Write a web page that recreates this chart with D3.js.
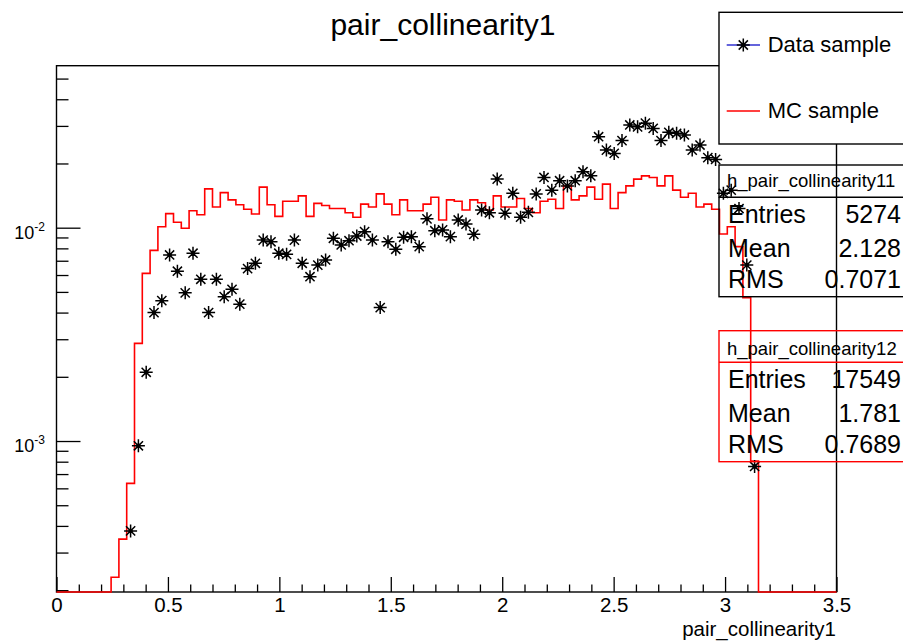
<!DOCTYPE html>
<html><head><meta charset="utf-8">
<script src="https://cdn.jsdelivr.net/npm/d3@7"></script>
<style>body{margin:0;background:#fff;overflow:hidden} svg{display:block;font-family:"Liberation Sans",Arial,Helvetica,sans-serif;}</style>
</head><body><svg id="c" width="903" height="642"></svg>
<script>
const xMin = 0, xMax = 3.5, nBins = 100;
const titleText = "pair_collinearity1";
const xAxisTitle = "pair_collinearity1";
const mcValues = [
  0,0,0,0,0,0,0,2.30e-4,3.47e-4,6.33e-4,
  2.87e-3,6.11e-3,7.83e-3,1.01e-2,1.164e-2,1.06e-2,9.94e-3,1.20e-2,1.15e-2,1.52e-2,
  1.25e-2,1.46e-2,1.35e-2,1.28e-2,1.22e-2,1.16e-2,1.55e-2,1.28e-2,1.13e-2,1.33e-2,
  1.33e-2,1.41e-2,1.13e-2,1.30e-2,1.27e-2,1.23e-2,1.23e-2,1.175e-2,1.12e-2,1.29e-2,
  1.25e-2,1.44e-2,1.29e-2,1.15e-2,1.35e-2,1.20e-2,1.20e-2,1.29e-2,1.39e-2,1.087e-2,
  1.35e-2,1.33e-2,1.21e-2,1.35e-2,1.31e-2,1.21e-2,1.41e-2,1.25e-2,1.25e-2,1.37e-2,
  1.23e-2,1.175e-2,1.33e-2,1.36e-2,1.23e-2,1.57e-2,1.35e-2,1.41e-2,1.55e-2,1.36e-2,
  1.60e-2,1.23e-2,1.46e-2,1.57e-2,1.69e-2,1.75e-2,1.72e-2,1.57e-2,1.75e-2,1.50e-2,
  1.39e-2,1.45e-2,1.25e-2,1.29e-2,1.22e-2,9.34e-3,1.01e-2,8.15e-3,4.70e-3,8.05e-4,
  0,0,0,0,0,0,0,0,0,0
];
const dataValues = [
  0,0,0,0,0,0,0,0,0,3.79e-4,
  9.5e-4,2.10e-3,4.0e-3,4.55e-3,7.45e-3,6.25e-3,4.95e-3,7.59e-3,5.73e-3,4.0e-3,
  5.73e-3,4.75e-3,5.14e-3,4.38e-3,6.43e-3,6.81e-3,8.75e-3,8.59e-3,7.59e-3,7.5e-3,
  8.75e-3,6.81e-3,5.89e-3,6.68e-3,7.06e-3,8.92e-3,8.3e-3,8.69e-3,9.14e-3,9.58e-3,
  8.75e-3,4.22e-3,8.59e-3,7.92e-3,9.02e-3,9.08e-3,8.15e-3,1.10e-2,9.68e-3,9.76e-3,
  9.08e-3,1.087e-2,1.04e-2,9.31e-3,1.21e-2,1.175e-2,1.69e-2,1.17e-2,1.45e-2,1.12e-2,
  1.18e-2,1.44e-2,1.72e-2,1.50e-2,1.66e-2,1.57e-2,1.66e-2,1.83e-2,1.75e-2,2.67e-2,
  2.31e-2,2.23e-2,2.56e-2,3.03e-2,2.97e-2,3.09e-2,2.92e-2,2.56e-2,2.80e-2,2.77e-2,
  2.72e-2,2.31e-2,2.44e-2,2.13e-2,2.09e-2,1.45e-2,1.50e-2,1.23e-2,6.68e-3,7.6e-4,
  0,0,0,0,0,0,0,0,0,0
];
const xTicks = [0,0.5,1,1.5,2,2.5,3,3.5];
const xTickLabels = ["0","0.5","1","1.5","2","2.5","3","3.5"];
const yMajorTicks = [1e-3, 1e-2];
const yTickExponents = ["-3","-2"];
const legendLabels = ["Data sample","MC sample"];
const stats1Header = "h_pair_collinearity11";
const stats1 = [["Entries","5274"],["Mean","2.128"],["RMS","0.7071"]];
const stats2Header = "h_pair_collinearity12";
const stats2 = [["Entries","17549"],["Mean","1.781"],["RMS","0.7689"]];

const svg = d3.select("#c");
const L = 56.5, R = 836.5, T = 65.7, B = 592;
const yMin = 1.96e-4, yMax = 0.05746;
const x = d3.scaleLinear().domain([xMin, xMax]).range([L, R]);
const y = d3.scaleLog().domain([yMin, yMax]).range([B, T]);
const bw = (xMax - xMin) / nBins;
const clampY = v => y(Math.max(v, yMin));

// title
svg.append("text").attr("x", 443).attr("y", 35).attr("text-anchor","middle")
  .attr("font-size", 30).attr("fill","#000").text(titleText);

// frame
svg.append("rect").attr("x", L).attr("y", T).attr("width", R-L).attr("height", B-T)
  .attr("fill","none").attr("stroke","#000").attr("stroke-width",1.4);

// x axis ticks
const xMinor = d3.range(0, 36).map(i => i*0.1).filter(v => v <= 3.5001 && Math.abs(v*2 - Math.round(v*2)) > 1e-6);
const gx = svg.append("g").attr("transform",`translate(0,${B})`);
gx.call(d3.axisBottom(x).tickValues(xTicks).tickSize(-15).tickPadding(5).tickFormat((d,i)=>xTickLabels[i]));
const gx2 = svg.append("g").attr("transform",`translate(0,${B})`);
gx2.call(d3.axisBottom(x).tickValues(xMinor).tickSize(-7.5).tickFormat(""));
[gx, gx2].forEach(g => { g.select(".domain").remove(); g.selectAll("line").attr("stroke","#000").attr("stroke-width",1.3); });
gx.selectAll("text").attr("font-size", 20.5).attr("fill","#000").attr("font-family",'"Liberation Sans",Arial,sans-serif');

// y axis ticks
const yMinor = [];
[1e-4,1e-3,1e-2].forEach(d => { for (let k=2;k<=9;k++){ const v=k*d; if (v>=yMin && v<=yMax) yMinor.push(v);} });
const gy = svg.append("g").attr("transform",`translate(${L},0)`);
gy.call(d3.axisLeft(y).tickValues(yMajorTicks).tickSize(-24).tickFormat(""));
const gy2 = svg.append("g").attr("transform",`translate(${L},0)`);
gy2.call(d3.axisLeft(y).tickValues(yMinor).tickSize(-12).tickFormat(""));
[gy, gy2].forEach(g => { g.select(".domain").remove(); g.selectAll("line").attr("stroke","#000").attr("stroke-width",1.3); });
yMajorTicks.forEach((v,i) => {
  const t = svg.append("text").attr("x", 45).attr("y", y(v)+11).attr("text-anchor","end")
    .attr("font-size", 18).attr("fill","#000");
  t.append("tspan").text("10");
  t.append("tspan").attr("font-size", 12).attr("dy", -8).text(yTickExponents[i]);
});

// x axis title
svg.append("text").attr("x", 836).attr("y", 636).attr("text-anchor","end")
  .attr("font-size", 20.5).attr("fill","#000").text(xAxisTitle);

// MC histogram step outline
let p = d3.path();
p.moveTo(x(xMin), clampY(mcValues[0]));
mcValues.forEach((v,i) => {
  const yy = clampY(v);
  p.lineTo(x(xMin + i*bw), yy);
  p.lineTo(x(xMin + (i+1)*bw), yy);
});
svg.append("path").attr("d", p.toString()).attr("fill","none")
  .attr("stroke","#ff0000").attr("stroke-width",1.6);

// data points (asterisk markers)
const star = "M-6.5,0H6.5M0,-6.5V6.5M-4.6,-4.6L4.6,4.6M-4.6,4.6L4.6,-4.6";
const pts = dataValues.map((v,i) => ({c: xMin + (i+0.5)*bw, v})).filter(d => d.v > 0);
const gp = svg.append("g");
const mk = gp.selectAll("g").data(pts).join("g")
  .attr("transform", d => `translate(${x(d.c)},${y(d.v)})`);
mk.append("path").attr("d", star).attr("stroke","#000").attr("stroke-width",1.5).attr("fill","none");
mk.append("circle").attr("r", 2.2).attr("fill","#000");

// stats boxes (transparent)
function statsBox(top, divider, bottom, color, header, headerBase, rows, rowBases) {
  svg.append("rect").attr("x", 719).attr("y", top).attr("width", 250).attr("height", bottom-top)
    .attr("fill","none").attr("stroke", color).attr("stroke-width",1.4);
  svg.append("line").attr("x1",719).attr("x2",969).attr("y1",divider).attr("y2",divider)
    .attr("stroke", color).attr("stroke-width",1.4);
  svg.append("text").attr("x",727).attr("y",headerBase).attr("font-size",18.5).attr("fill","#000").text(header);
  rows.forEach((r,i) => {
    svg.append("text").attr("x",728).attr("y",rowBases[i]).attr("font-size",25).attr("fill","#000").text(r[0]);
    svg.append("text").attr("x",901).attr("y",rowBases[i]).attr("font-size",25).attr("text-anchor","end").attr("fill","#000").text(r[1]);
  });
}
statsBox(165, 197.3, 296.7, "#000", stats1Header, 187, stats1, [223.3, 256.7, 288.3]);
statsBox(330.7, 362.3, 461.7, "#ff0000", stats2Header, 355, stats2, [388.3, 421.7, 453.3]);

// legend
svg.append("rect").attr("x", 719).attr("y", 12.3).attr("width", 250).attr("height", 131.7)
  .attr("fill","#fff").attr("stroke","#000").attr("stroke-width",1.4);
svg.append("line").attr("x1",726.7).attr("x2",760).attr("y1",45).attr("y2",45).attr("stroke","#3030d0").attr("stroke-width",1.4);
const lm = svg.append("g").attr("transform","translate(743.3,45)");
lm.append("path").attr("d", star).attr("stroke","#000").attr("stroke-width",1.5).attr("fill","none");
lm.append("circle").attr("r",2.2).attr("fill","#000");
svg.append("line").attr("x1",726.7).attr("x2",760).attr("y1",111).attr("y2",111).attr("stroke","#ff0000").attr("stroke-width",1.6);
svg.append("text").attr("x",767.7).attr("y",52.3).attr("font-size",22).attr("fill","#000").text(legendLabels[0]);
svg.append("text").attr("x",767.7).attr("y",118.3).attr("font-size",22).attr("fill","#000").text(legendLabels[1]);
</script></body></html>
